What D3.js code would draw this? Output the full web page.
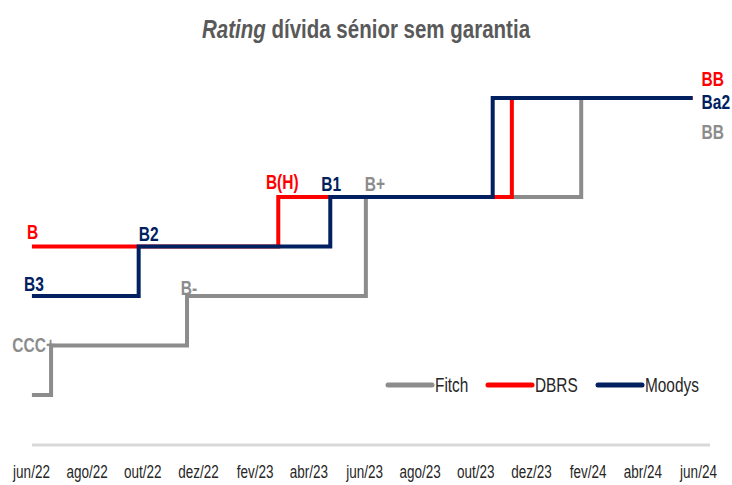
<!DOCTYPE html>
<html>
<head>
<meta charset="utf-8">
<script src="https://cdn.jsdelivr.net/npm/d3@7"></script>
<style>
  html, body { margin: 0; padding: 0; background: #fff; }
  svg text { font-family: "Liberation Sans Narrow", "Arial Narrow", "Liberation Sans", Arial, sans-serif; }
</style>
</head>
<body>
<svg id="chart" width="732" height="485"></svg>
<script>
// ---- Data ----
const tickLabels = ["jun/22","ago/22","out/22","dez/22","fev/23","abr/23","jun/23","ago/23","out/23","dez/23","fev/24","abr/24","jun/24"];
const tickDates = ["2022-06-01","2022-08-01","2022-10-01","2022-12-01","2023-02-01","2023-04-01","2023-06-01","2023-08-01","2023-10-01","2023-12-01","2024-02-01","2024-04-01","2024-06-01"];
const ratingScale = ["CCC","CCC+","B-","B","B+","BB-","BB"]; // equivalent notches (Moody's mapped)

const seriesNames = ["Fitch","DBRS","Moodys"];

const fitchDates   = ["2022-06-02","2022-06-23","2022-11-19","2023-06-03","2024-01-25","2024-05-26"];
const fitchRatings = ["CCC","CCC+","B-","B+","BB","BB"];

const dbrsDates    = ["2022-06-02","2023-02-27","2023-11-10","2024-05-26"];
const dbrsRatings  = ["B","B+","BB","BB"];

const moodysDates   = ["2022-06-02","2022-09-27","2023-04-25","2023-10-20","2024-05-26"];
const moodysRatings = ["B-","B","B+","BB","BB"];
const moodysLabels  = ["B3","B2","B1","Ba2"];

const fitchLabels = ["CCC+","B-","B+","BB"];
const dbrsLabels  = ["B","B(H)","BB"];

// ---- Setup ----
const parse = d3.timeParse("%Y-%m-%d");
const svg = d3.select("#chart");

function narrow(sel, sx) {
  sel.each(function () {
    const t = d3.select(this);
    const tx = +t.attr("x") || 0, ty = +t.attr("y") || 0;
    t.attr("x", 0).attr("y", 0)
     .attr("transform", `translate(${tx},${ty}) scale(${sx},1)`);
  });
}

const x = d3.scaleTime()
  .domain([parse(tickDates[0]), parse(tickDates[tickDates.length - 1])])
  .range([31, 698]);
const y = d3.scalePoint()
  .domain(ratingScale)
  .range([395, 98]);

const colors = { Fitch: "#8c8c8c", DBRS: "#ff0000", Moodys: "#002060" };

const series = [
  { name: "Fitch",  values: fitchDates.map((d, i) => ({ date: parse(d), rating: fitchRatings[i] })) },
  { name: "DBRS",   values: dbrsDates.map((d, i) => ({ date: parse(d), rating: dbrsRatings[i] })) },
  { name: "Moodys", values: moodysDates.map((d, i) => ({ date: parse(d), rating: moodysRatings[i] })) }
];

// Title
const title = svg.append("text")
  .attr("x", 366).attr("y", 38)
  .attr("text-anchor", "middle")
  .attr("fill", "#595959")
  .style("font-size", "25px")
  .style("font-weight", "bold");
title.append("tspan").style("font-style", "italic").text("Rating");
title.append("tspan").text(" dívida sénior sem garantia");
narrow(title, 0.82);

// X axis
const xAxis = d3.axisBottom(x)
  .tickValues(tickDates.map(parse))
  .tickFormat((d, i) => tickLabels[i])
  .tickSize(0)
  .tickPadding(20);
const gx = svg.append("g").attr("transform", "translate(0,445)").call(xAxis);
gx.select(".domain").remove();
gx.append("line")
  .attr("x1", 32).attr("x2", 710).attr("y1", 0).attr("y2", 0)
  .attr("stroke", "#d9d9d9").attr("stroke-width", 3);
gx.selectAll(".tick text")
  .attr("fill", "#262626")
  .style("font-size", "18.5px")
  .attr("transform", "scale(0.73,1)");

// Lines (drawn in order Fitch, DBRS, Moodys so Moodys is on top)
const line = d3.line()
  .x(d => x(d.date))
  .y(d => y(d.rating))
  .curve(d3.curveStepAfter);

svg.append("g").selectAll("path")
  .data(series)
  .join("path")
  .attr("d", d => line(d.values))
  .attr("fill", "none")
  .attr("stroke", d => colors[d.name])
  .attr("stroke-width", 4)
  .attr("stroke-linejoin", "miter")
  .attr("stroke-linecap", "butt");

// Rating labels
const P = (s, i) => series.find(d => d.name === s).values[i];
const labelDefs = [
  { s: "DBRS",   i: 0, text: dbrsLabels[0],   dx: -5,  dy: -8,  anchor: "start" },
  { s: "Moodys", i: 0, text: moodysLabels[0], dx: -8,  dy: -5,  anchor: "start" },
  { s: "Moodys", i: 1, text: moodysLabels[1], dx: 0,   dy: -6,  anchor: "start" },
  { s: "Fitch",  i: 1, text: fitchLabels[0],  dx: 4,   dy: 6,   anchor: "end" },
  { s: "Fitch",  i: 2, text: fitchLabels[1],  dx: 2,   dy: -1,  anchor: "middle" },
  { s: "DBRS",   i: 1, text: dbrsLabels[1],   dx: 4,   dy: -8,  anchor: "middle" },
  { s: "Moodys", i: 2, text: moodysLabels[2], dx: 1,   dy: -6,  anchor: "middle" },
  { s: "Fitch",  i: 3, text: fitchLabels[2],  dx: -1,  dy: -6,  anchor: "start" },
  { s: "DBRS",   i: 3, text: dbrsLabels[2],   dx: 9,   dy: -12, anchor: "start" },
  { s: "Moodys", i: 4, text: moodysLabels[3], dx: 9,   dy: 11,  anchor: "start" },
  { s: "Fitch",  i: 5, text: fitchLabels[3],  dx: 9,   dy: 41,  anchor: "start" }
];
const labels = svg.append("g").selectAll("text")
  .data(labelDefs)
  .join("text")
  .attr("x", d => x(P(d.s, d.i).date) + d.dx)
  .attr("y", d => y(P(d.s, d.i).rating) + d.dy)
  .attr("text-anchor", d => d.anchor)
  .attr("fill", d => colors[d.s])
  .style("font-size", "21px")
  .style("font-weight", "bold")
  .text(d => d.text);
narrow(labels, 0.74);

// Legend
const legendX = [388, 488, 598];
const lg = svg.append("g").attr("transform", "translate(0,385)");
const items = lg.selectAll("g").data(seriesNames).join("g")
  .attr("transform", (d, i) => `translate(${legendX[i]},0)`);
items.append("line")
  .attr("x1", 0).attr("x2", 44).attr("y1", 0).attr("y2", 0)
  .attr("stroke", d => colors[d]).attr("stroke-width", 5)
  .attr("stroke-linecap", "round");
const legText = items.append("text")
  .attr("x", 47).attr("y", 7)
  .attr("fill", "#262626")
  .style("font-size", "20px")
  .text(d => d);
narrow(legText, 0.77);
</script>
</body>
</html>
